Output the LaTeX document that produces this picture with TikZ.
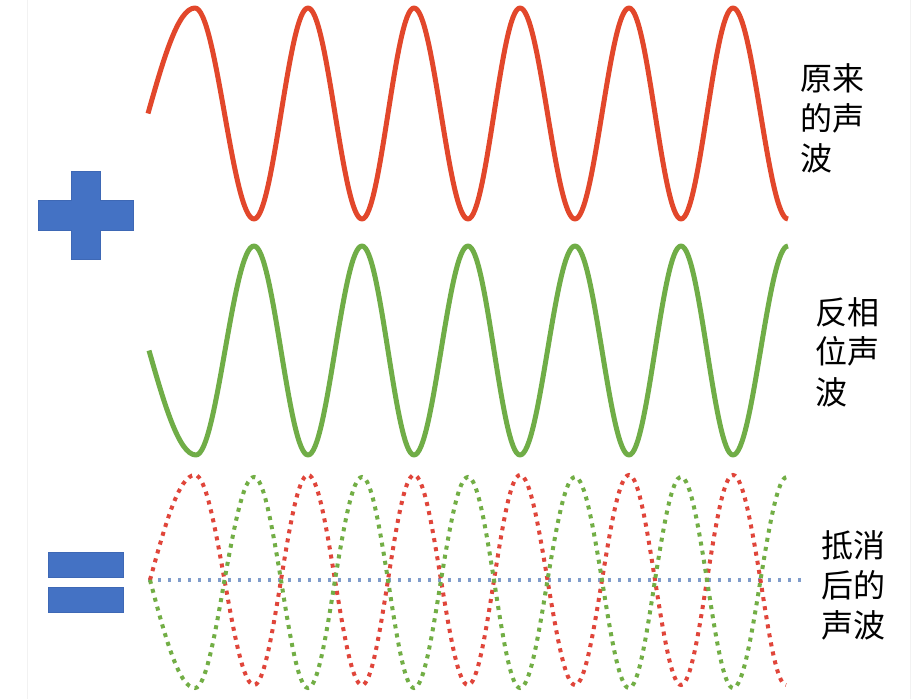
\documentclass[tikz,border=0pt]{standalone}
\usepackage{fontspec}
\newfontfamily\cjk{Noto Sans CJK SC}
\definecolor{wred}{HTML}{E2472B}
\definecolor{wgreen}{HTML}{70AD47}
\definecolor{dred}{HTML}{E0453A}
\definecolor{dgreen}{HTML}{72AE45}
\definecolor{dblue}{HTML}{7F9CCB}
\definecolor{sblue}{HTML}{4472C4}
\definecolor{sedge}{HTML}{3E68B5}
\begin{document}
\begin{tikzpicture}[x=0.75pt,y=-0.75pt,
  redwave/.style={draw=wred, line width=3.75pt, line join=round},
  greenwave/.style={draw=wgreen, line width=3.75pt, line join=round},
  reddots/.style={draw=dred, line width=3pt, dash pattern=on 3pt off 3.9pt},
  greendots/.style={draw=dgreen, line width=3pt, dash pattern=on 3pt off 3.9pt},
  bluedots/.style={draw=dblue, line width=3pt, dash pattern=on 2.2pt off 5.3pt},
  sign/.style={fill=sblue, draw=sedge, line width=0.5pt},
  lbl/.style={font=\cjk\fontsize{24}{30}\selectfont, inner sep=0pt, anchor=base west, text=black}]
\useasboundingbox (0,0) rectangle (920,699);
\fill[white] (0,0) rectangle (920,699);
% faint frame lines
\draw[black!5, line width=0.6pt] (27,0) -- (27,699);
\draw[black!5, line width=0.6pt] (910,0) -- (910,699);

% plus sign
\path[sign] (71,171) -- (100,171) -- (100,200) -- (133,200) -- (133,230) -- (100,230)
  -- (100,259) -- (71,259) -- (71,230) -- (38,230) -- (38,200) -- (71,200) -- cycle;
% equals sign
\path[sign] (48,552) rectangle (123,577);
\path[sign] (48,587) rectangle (123,612);

% original wave (red)
\draw[redwave] (148,113.5) sin (195,8) cos (224.5,113.5) sin (254,219) cos (281,113.5)
  sin (308,8) cos (335,113.5) sin (362,219) cos (388,113.5)
  sin (414,8) cos (441,113.5) sin (468,219) cos (494,113.5)
  sin (520,8) cos (547.5,113.5) sin (575,219) cos (602,113.5)
  sin (629,8) cos (655,113.5) sin (681,219) cos (707,113.5)
  sin (733,8) cos (760.5,113.5) sin (788,219);

% anti-phase wave (green)
\draw[greenwave] (149,350.5) sin (196,455) cos (225,350.5) sin (254,246) cos (281,350.5)
  sin (308,455) cos (335,350.5) sin (362,246) cos (388,350.5)
  sin (414,455) cos (441,350.5) sin (468,246) cos (494,350.5)
  sin (520,455) cos (547.5,350.5) sin (575,246) cos (602,350.5)
  sin (629,455) cos (655,350.5) sin (681,246) cos (707,350.5)
  sin (733,455) cos (760.5,350.5) sin (788,246);

% cancelled result: blue baseline
\draw[bluedots] (148,580) -- (802,580);
% dotted red
\draw[reddots] (150,580) sin (195,475) cos (224.5,580) sin (254,685) cos (281,580)
  sin (308,475) cos (335,580) sin (362,685) cos (388,580)
  sin (414,475) cos (441,580) sin (468,685) cos (494,580)
  sin (520,475) cos (547.5,580) sin (575,685) cos (602,580)
  sin (629,475) cos (655,580) sin (681,685) cos (707,580)
  sin (733,475) cos (760.5,580) sin (786,685);
% dotted green
\draw[greendots] (150,580) sin (195,688) cos (224.5,580) sin (254,477) cos (281,580)
  sin (308,688) cos (335,580) sin (362,477) cos (388,580)
  sin (414,688) cos (441,580) sin (468,477) cos (494,580)
  sin (520,688) cos (547.5,580) sin (575,477) cos (602,580)
  sin (629,688) cos (655,580) sin (681,477) cos (707,580)
  sin (733,688) cos (760.5,580) sin (787,477);

% labels
\node[lbl] (t1a) at (800,90) {原来};
\node[lbl] (t1b) at (800,130) {的声};
\node[lbl] (t1c) at (800,170) {波};
\node[lbl] (t2a) at (815,324) {反相};
\node[lbl] (t2b) at (815,363) {位声};
\node[lbl] (t2c) at (815,404) {波};
\node[lbl] (t3a) at (821,557) {抵消};
\node[lbl] (t3b) at (821,597) {后的};
\node[lbl] (t3c) at (821,637) {声波};
\end{tikzpicture}
\end{document}
